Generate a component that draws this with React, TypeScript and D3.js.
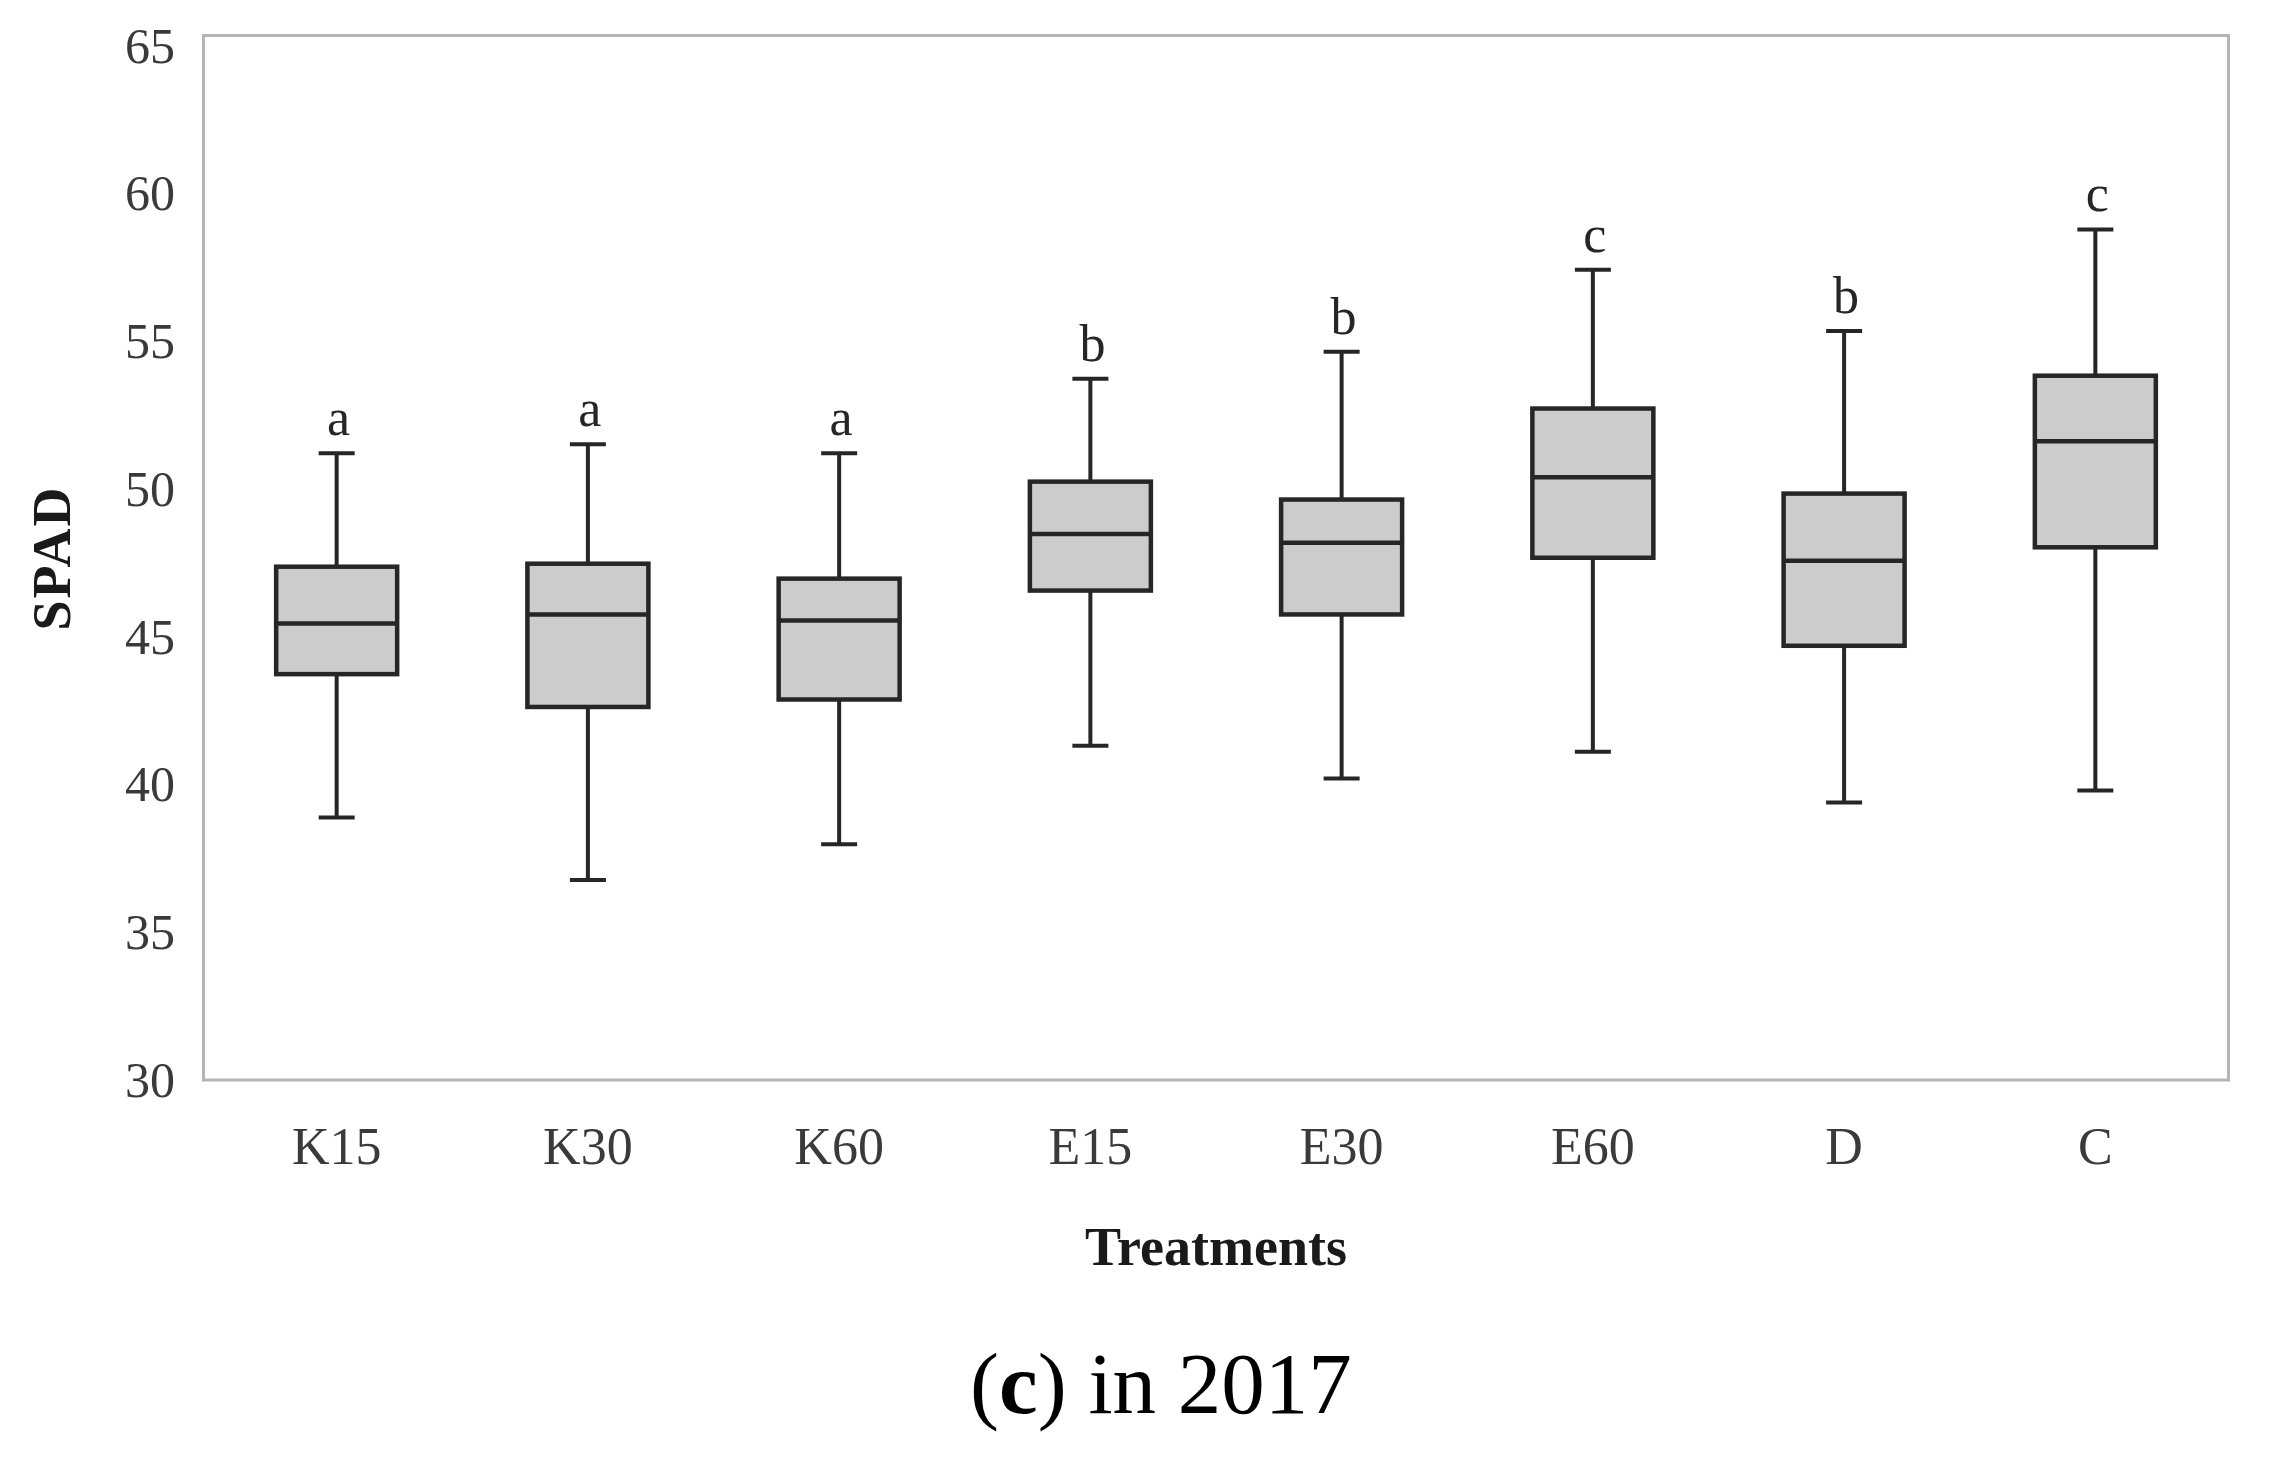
import React, { useEffect, useRef } from 'react';
import * as d3 from 'd3';

// Box plot values (SPAD by treatment, 2017)
const categories = ['K15', 'K30', 'K60', 'E15', 'E30', 'E60', 'D', 'C'];
const whiskerLow = [38.8, 36.7, 37.9, 41.2, 40.1, 41.0, 39.3, 39.7];
const q1 = [43.6, 42.5, 42.75, 46.4, 45.6, 47.5, 44.55, 47.85];
const median = [45.3, 45.6, 45.4, 48.3, 48.0, 50.2, 47.4, 51.4];
const q3 = [47.2, 47.3, 46.8, 50.05, 49.45, 52.5, 49.65, 53.6];
const whiskerHigh = [51.0, 51.3, 51.0, 53.5, 54.4, 57.15, 55.1, 58.5];
const groupLetters = ['a', 'a', 'a', 'b', 'b', 'c', 'b', 'c'];
const yTicks = [30, 35, 40, 45, 50, 55, 60, 65];

const FONT = '"Liberation Serif", "Times New Roman", serif';

const App: React.FC = () => {
  const svgRef = useRef<SVGSVGElement | null>(null);

  useEffect(() => {
    if (!svgRef.current) return;

    const width = 2270;
    const height = 1459;
    const left = 203.5;
    const right = 2228.5;
    const top = 35.5;
    const bottom = 1080;

    const svg = d3.select(svgRef.current)
      .attr('width', width)
      .attr('height', height)
      .attr('viewBox', `0 0 ${width} ${height}`);

    svg.selectAll('*').remove();

    svg.append('rect')
      .attr('width', width)
      .attr('height', height)
      .attr('fill', '#ffffff');

    const x = d3.scaleBand<string>()
      .domain(categories)
      .range([left, right])
      .paddingInner(0)
      .paddingOuter(0.03);

    const y = d3.scaleLinear()
      .domain([30, 65])
      .range([bottom, top]);

    // plot frame
    svg.append('rect')
      .attr('x', left)
      .attr('y', top)
      .attr('width', right - left)
      .attr('height', bottom - top)
      .attr('fill', 'none')
      .attr('stroke', '#b4b4b4')
      .attr('stroke-width', 3);

    // y tick labels (the source labels sit a touch low near the top)
    svg.append('g')
      .selectAll('text')
      .data(yTicks)
      .join('text')
      .attr('x', 175)
      .attr('y', d => y(d) + ((d - 30) / 35) * 10)
      .attr('text-anchor', 'end')
      .attr('dominant-baseline', 'central')
      .attr('font-family', FONT)
      .attr('font-size', 50)
      .attr('fill', '#3a3a3a')
      .text(d => d);

    // x tick labels
    svg.append('g')
      .selectAll('text')
      .data(categories)
      .join('text')
      .attr('x', d => (x(d) as number) + x.bandwidth() / 2)
      .attr('y', 1164)
      .attr('text-anchor', 'middle')
      .attr('font-family', FONT)
      .attr('font-size', 52)
      .attr('fill', '#3a3a3a')
      .text(d => d);

    const boxW = 121;
    const capW = 36;
    const ink = '#262626';

    const boxes = svg.append('g')
      .selectAll('g')
      .data(categories)
      .join('g')
      .attr('transform', d => `translate(${(x(d) as number) + x.bandwidth() / 2},0)`);

    // whiskers
    boxes.append('line')
      .attr('x1', 0).attr('x2', 0)
      .attr('y1', (_, i) => y(whiskerHigh[i]))
      .attr('y2', (_, i) => y(whiskerLow[i]))
      .attr('stroke', ink)
      .attr('stroke-width', 4);

    boxes.append('line')
      .attr('x1', -capW / 2).attr('x2', capW / 2)
      .attr('y1', (_, i) => y(whiskerHigh[i]))
      .attr('y2', (_, i) => y(whiskerHigh[i]))
      .attr('stroke', ink)
      .attr('stroke-width', 4);

    boxes.append('line')
      .attr('x1', -capW / 2).attr('x2', capW / 2)
      .attr('y1', (_, i) => y(whiskerLow[i]))
      .attr('y2', (_, i) => y(whiskerLow[i]))
      .attr('stroke', ink)
      .attr('stroke-width', 4);

    // box
    boxes.append('rect')
      .attr('x', -boxW / 2)
      .attr('width', boxW)
      .attr('y', (_, i) => y(q3[i]))
      .attr('height', (_, i) => y(q1[i]) - y(q3[i]))
      .attr('fill', '#cccccc')
      .attr('stroke', ink)
      .attr('stroke-width', 4.5);

    // median
    boxes.append('line')
      .attr('x1', -boxW / 2).attr('x2', boxW / 2)
      .attr('y1', (_, i) => y(median[i]))
      .attr('y2', (_, i) => y(median[i]))
      .attr('stroke', ink)
      .attr('stroke-width', 4.5);

    // significance letters
    boxes.append('text')
      .attr('x', 2)
      .attr('y', (_, i) => y(whiskerHigh[i]) - 18)
      .attr('text-anchor', 'middle')
      .attr('font-family', FONT)
      .attr('font-size', 52)
      .attr('fill', '#262626')
      .text((_, i) => groupLetters[i]);

    // axis titles
    svg.append('text')
      .attr('transform', `translate(70,558) rotate(-90)`)
      .attr('text-anchor', 'middle')
      .attr('font-family', FONT)
      .attr('font-weight', 'bold')
      .attr('font-size', 54)
      .attr('letter-spacing', 2)
      .attr('fill', '#1a1a1a')
      .text('SPAD');

    svg.append('text')
      .attr('x', 1216)
      .attr('y', 1265)
      .attr('text-anchor', 'middle')
      .attr('font-family', FONT)
      .attr('font-weight', 'bold')
      .attr('font-size', 54)
      .attr('fill', '#1a1a1a')
      .text('Treatments');

    // caption
    const caption = svg.append('text')
      .attr('x', 1161)
      .attr('y', 1413)
      .attr('text-anchor', 'middle')
      .attr('font-family', FONT)
      .attr('font-size', 87)
      .attr('fill', '#000000');
    caption.append('tspan').text('(');
    caption.append('tspan').attr('font-weight', 'bold').text('c');
    caption.append('tspan').text(') in 2017');
  }, []);

  return (
    <svg
      ref={svgRef}
      style={{ position: 'absolute', left: 0, top: 0, display: 'block' }}
    />
  );
};

export default App;
